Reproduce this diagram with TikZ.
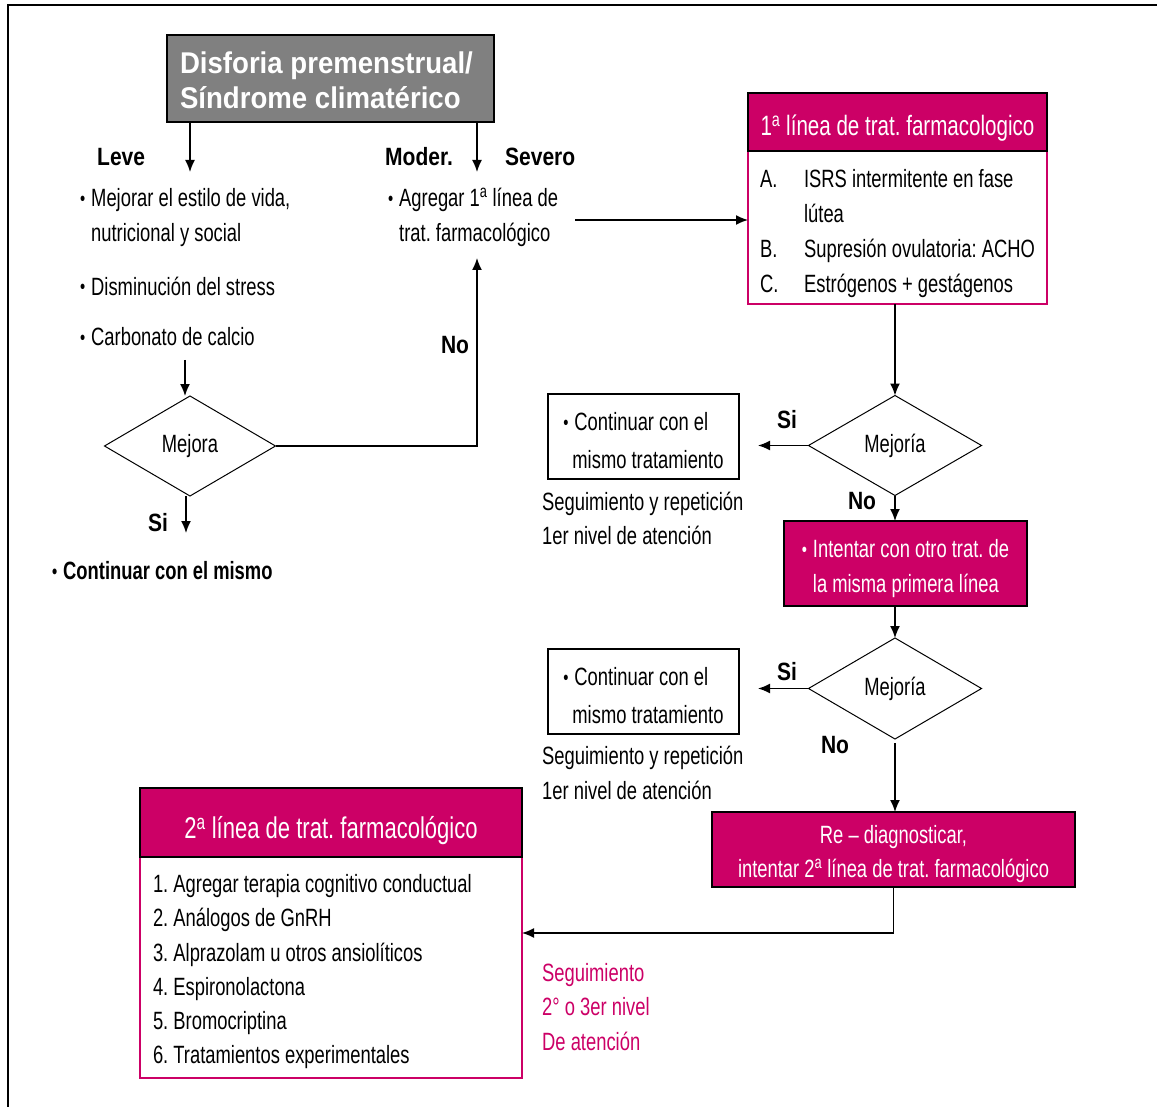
\documentclass[tikz,border=0pt]{standalone}
\usepackage{fontspec}
\setmainfont[FakeStretch=0.735]{Liberation Sans}
\newfontfamily\widefont[FakeStretch=0.84]{Liberation Sans}
\newfontfamily\titlefont[FakeStretch=0.92]{Liberation Sans}
\usepackage{tikz}
\usetikzlibrary{shapes.geometric,arrows.meta,positioning}
\frenchspacing
\definecolor{rosa}{RGB}{204, 0, 102}
\definecolor{gris}{RGB}{128, 128, 128}
\newcommand{\bul}{\makebox[11pt][l]{\raisebox{0.12ex}{\scalebox{0.8}{\textbullet}}}}
\newcommand{\lift}[1]{\rule{0pt}{#1}}
\tikzstyle{titlebox} = [rectangle, draw=black, line width=1.5pt, fill=gris, text=white, align=flush left, font=\titlefont\bfseries\fontsize{30}{35}\selectfont, minimum width=327pt, minimum height=87pt, text width=301pt, inner xsep=13pt, outer sep=0pt]
\tikzstyle{lbl} = [draw=none, fill=none, inner sep=0pt, font=\widefont\bfseries\fontsize{25}{30}\selectfont]
\tikzstyle{txt} = [draw=none, fill=none, inner sep=0pt, align=flush left, font=\fontsize{25}{34.5}\selectfont]
\tikzstyle{decision} = [diamond, draw=black, line width=1pt, inner sep=0pt, outer sep=0pt, font=\fontsize{25}{30}\selectfont, minimum width=173pt, minimum height=100pt]
\tikzstyle{magbox} = [rectangle, draw=black, line width=1.5pt, fill=rosa, text=white, outer sep=0pt, font=\fontsize{25}{34.5}\selectfont]
\tikzstyle{listbox} = [rectangle, draw=rosa, line width=1.2pt, fill=white, align=flush left, outer sep=0pt, font=\fontsize{25}{35}\selectfont]
\tikzstyle{keepbox} = [rectangle, draw=black, line width=1.2pt, align=flush left, outer sep=0pt, minimum width=191pt, minimum height=85pt, font=\fontsize{25}{38}\selectfont]
\tikzstyle{tedge} = [draw, line width=1.5pt, -{Latex[length=12pt,width=10pt]}]
\tikzstyle{nedge} = [draw, line width=1.5pt]

\begin{document}
\frenchspacing
\begin{tikzpicture}[x=1pt, y=-1pt]
\useasboundingbox (0,0) rectangle (1157,1107);
\draw[line width=2pt] (8,5) rectangle (1180,1130);
%left branch=========================

\node[titlebox, anchor=north west] (title) at (167,35) {\lift{26pt}Disforia premenstrual/\\Síndrome climatérico};
\node[lbl, anchor=west] (leve) at (97,157) {Leve};
\node[lbl, anchor=west] (moder) at (385,157) {Moder.};
\node[lbl, anchor=west] (severo) at (505,157) {Severo};
\coordinate (a1) at (190,172);
\coordinate (a2) at (477,172);

\node[txt, anchor=west] (mejorar) at (80,217.5) {\bul Mejorar el estilo de vida,\\\hspace*{11pt}nutricional y social};
\node[txt, anchor=west] (stress) at (80,286) {\bul Disminución del stress};
\node[txt, anchor=west] (calcio) at (80,337) {\bul Carbonato de calcio};
\coordinate (c1) at (185,360);

\node[decision, minimum width=171pt] (mejora) at (190,446) {Mejora};
\coordinate (s1) at (186,533);
\node[lbl] (si0) at (158,523) {Si};
\node[txt, anchor=west, font=\bfseries\fontsize{25}{30}\selectfont] (mismo) at (52,571) {\bul Continuar con el mismo};

\node[txt, anchor=west] (agregar) at (388,217.5) {\bul Agregar 1\textsuperscript{a} línea de\\\hspace*{11pt}trat. farmacológico};
\coordinate (n1) at (477,258);
\node[lbl] (no0) at (455,345) {No};
\coordinate (g1) at (575,220);

%right branch=========================

\node[listbox, anchor=north west, minimum width=299pt, minimum height=153pt] (lista1) at (748,151) {\lift{30.5pt}\makebox[44pt][l]{A.}ISRS intermitente en fase\\\hspace*{44pt}lútea\\\makebox[44pt][l]{B.}Supresión ovulatoria: ACHO\\\makebox[44pt][l]{C.}Estrógenos + gestágenos};
\node[magbox, minimum width=299pt, minimum height=58pt, font=\fontsize{28}{34}\selectfont, above=0pt of lista1] (linea1) {\lift{32pt}1\textsuperscript{a} línea de trat. farmacologico};

\node[decision] (mejoria1) at (895,445.5) {Mejoría};
\node[keepbox, anchor=north west] (seguir1) at (548,394) {\lift{26.5pt}\bul Continuar con el\\\hspace*{9pt}mismo tratamiento};
\node[txt, anchor=west] (nivel1) at (542,518.5) {Seguimiento y repetición\\1er nivel de atención};
\coordinate (si1) at (758,445.5);
\node[lbl] (silbl1) at (787,420) {Si};
\node[lbl] (nolbl1) at (862,501) {No};

\node[magbox, anchor=north west, minimum width=243pt, minimum height=85pt, align=flush left] (intentar) at (784,521) {\lift{28.5pt}\bul Intentar con otro trat. de\\\hspace*{11pt}la misma primera línea};

\node[decision, minimum height=101pt] (mejoria2) at (895,688.5) {Mejoría};
\node[keepbox, anchor=north west] (seguir2) at (548,649) {\lift{26.5pt}\bul Continuar con el\\\hspace*{9pt}mismo tratamiento};
\node[txt, anchor=west] (nivel2) at (542,773) {Seguimiento y repetición\\1er nivel de atención};
\coordinate (si2) at (758,688.5);
\node[lbl] (silbl2) at (787,672) {Si};
\node[lbl] (nolbl2) at (835,745) {No};

\node[magbox, anchor=north west, minimum width=363pt, minimum height=75pt, align=center, font=\fontsize{25}{34}\selectfont] (rediag) at (712,812) {\lift{27pt}Re – diagnosticar,\\intentar 2\textsuperscript{a} línea de trat. farmacológico};
\coordinate (r1) at (rediag.south |- 0,933);

%second line=========================

\node[listbox, anchor=north west, minimum width=382pt, minimum height=221pt, text width=356pt, inner xsep=13pt, font=\fontsize{25}{34.2}\selectfont] (lista2) at (140,857) {\lift{26.5pt}1. Agregar terapia cognitivo conductual\\2. Análogos de GnRH\\3. Alprazolam u otros ansiolíticos\\4. Espironolactona\\5. Bromocriptina\\6. Tratamientos experimentales};
\node[magbox, minimum width=382pt, minimum height=69pt, font=\fontsize{30}{36}\selectfont, above=0pt of lista2] (linea2) {\lift{39pt}2\textsuperscript{a} línea de trat. farmacológico};
\node[txt, anchor=west, text=rosa] (nivel3) at (542,1007) {Seguimiento\\2° o 3er nivel\\De atención};

% edges
\path[tedge] (title.south -| a1) -- (a1);
\path[tedge] (title.south -| a2) -- (a2);
\path[tedge] (c1) -- (c1 |- mejora.north);
\path[tedge] (mejora.south -| s1) -- (s1);
\path[tedge] (mejora.east) -| (n1);
\path[tedge] (g1) -- (g1 -| lista1.west);
\path[tedge] (lista1.south -| mejoria1.north) -- (mejoria1.north);
\path[tedge] (mejoria1.west) -- (si1);
\path[tedge] (mejoria1.south) -- (intentar.north -| mejoria1.south);
\path[tedge] (intentar.south -| mejoria2.north) -- (mejoria2.north);
\path[tedge] (mejoria2.west) -- (si2);
\path[tedge, shorten <=4pt] (mejoria2.south) -- (rediag.north -| mejoria2.south);
\path[tedge] (rediag.south) -- (r1) -- (r1 -| lista2.east);

\end{tikzpicture}
\end{document}
